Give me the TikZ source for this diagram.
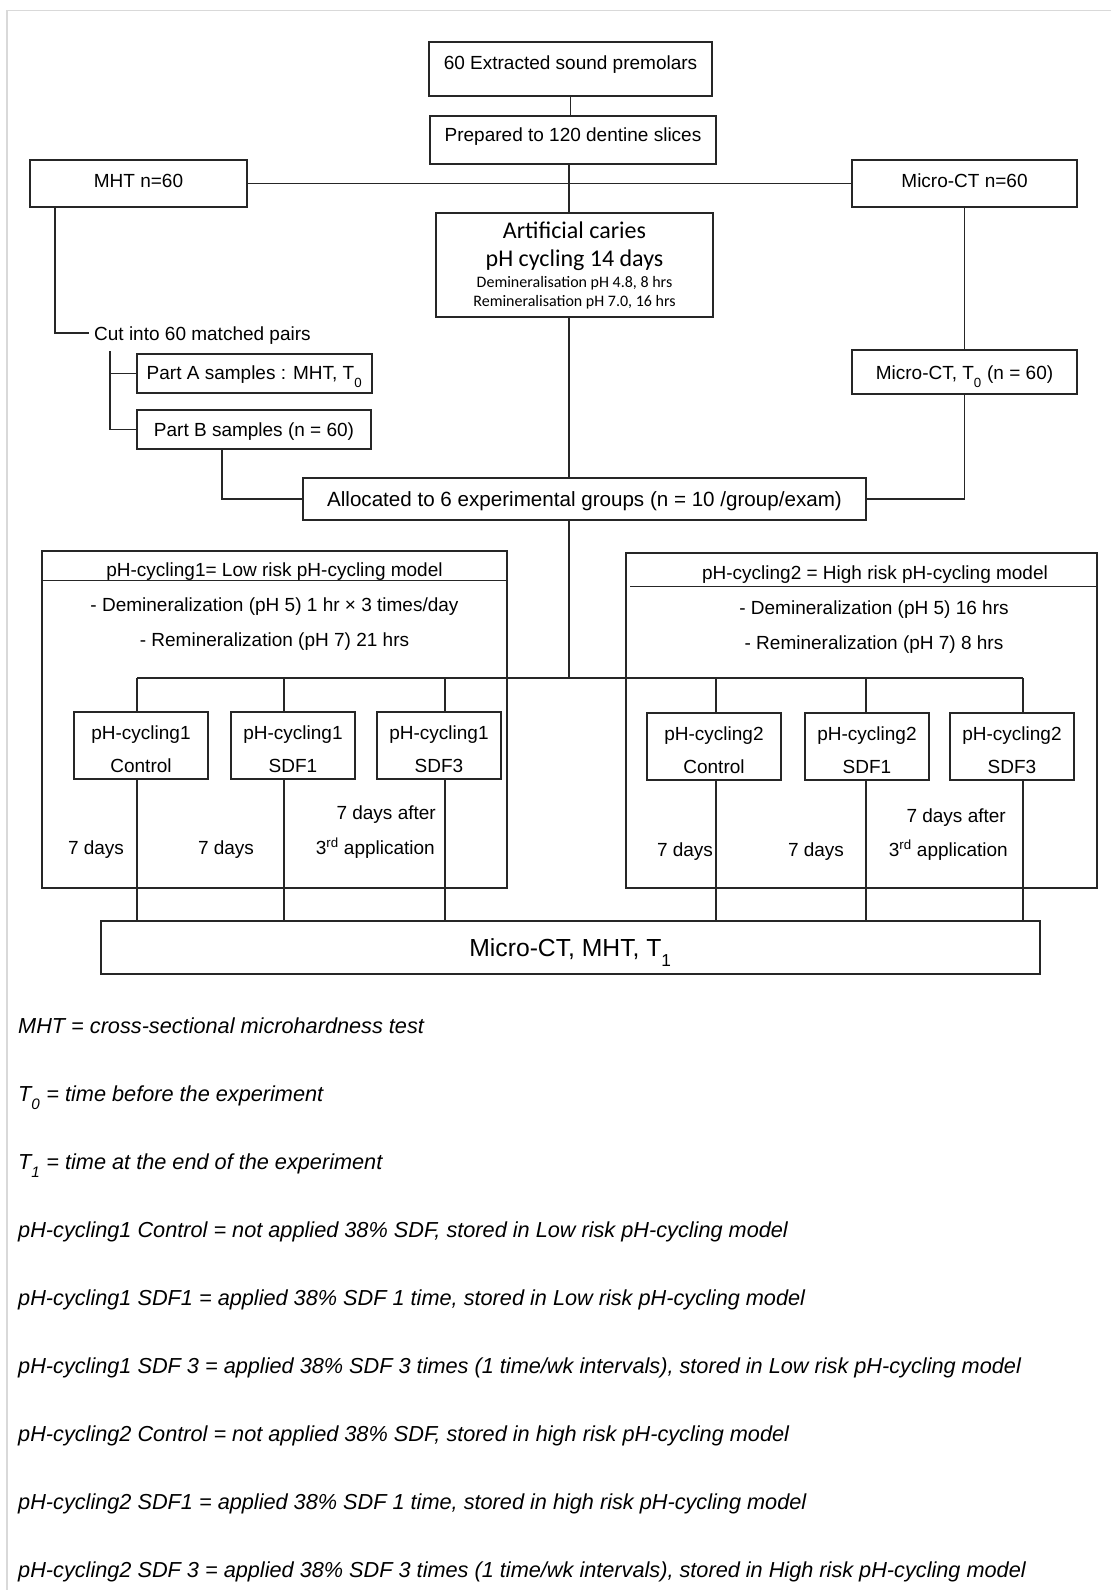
\documentclass[tikz,border=0pt]{standalone}
\usepackage{fontspec}
\setmainfont{Liberation Sans}
\newfontfamily\calfont{Carlito}
\newcommand{\fsz}[2]{\fontsize{#1}{#2}\selectfont}
\newcommand{\tallstrut}{\rule{0pt}{22pt}}
\newcommand{\lowsub}[1]{\raisebox{-0.25em}{\textsubscript{#1}}}

\begin{document}
\begin{tikzpicture}[x=1pt,y=-1pt]
  \tikzset{wire/.style={draw=black!85, line width=1.1pt},
    outline/.style={wire, inner sep=0pt},
    box/.style={outline, font=\fsz{19}{23}, text height=14pt, text depth=4pt},
    pair/.style={outline, align=center, font=\fsz{19}{33}, minimum width=124pt, minimum height=67pt},
    note/.style={font=\fsz{19}{23}, inner sep=0pt, anchor=base},
    foot/.style={font=\fsz{21.7}{26}\itshape, inner sep=0pt, anchor=base west}}
  \useasboundingbox (0,0) rectangle (1111,1590);
  \draw[black!15, line width=1.5pt] (1111,10.5) -- (7,10.5) -- (7,1590);

  \node[box, minimum width=283pt, minimum height=54pt, text depth=14pt] (premolars) at (570.5,69) {60 Extracted sound premolars};
  \node[box, minimum width=286pt, minimum height=48pt, text depth=12pt] (slices) at (573,140) {Prepared to 120 dentine slices};
  \node[box, minimum width=217pt, minimum height=47pt, text depth=7pt] (mht) at (138.5,183.5) {MHT n=60};
  \node[box, minimum width=225pt, minimum height=47pt, text depth=7pt] (microct) at (964.5,183.5) {Micro-CT n=60};
  \node[outline, align=center, minimum width=277pt, minimum height=104pt, font=\calfont\fsz{24}{28}] (caries) at (574.5,265)
    {Artificial caries\\pH cycling 14 days\\[-7pt]{\fsz{16}{19}Demineralisation pH 4.8, 8 hrs}\\[-9pt]{\fsz{16}{19}Remineralisation pH 7.0, 16 hrs}};
  \node[note, anchor=west, inner xsep=5pt, text height=14pt, text depth=0pt] (cut) at (89,333) {Cut into 60 matched pairs};
  \node[box, minimum width=235pt, minimum height=39pt, text depth=3pt] (partA) at (254.5,373.5) {Part A samples : MHT, T\lowsub{0}};
  \node[box, minimum width=234pt, minimum height=39pt, text depth=0pt] (partB) at (254,429.5) {Part B samples (n = 60)};
  \node[box, minimum width=225pt, minimum height=44pt, text depth=0pt] (ct0) at (964.5,372) {Micro-CT, T\lowsub{0} (n = 60)};
  \node[box, font=\fsz{20.6}{25}, minimum width=563pt, minimum height=42pt, text depth=0pt] (alloc) at (584.5,499) {Allocated to 6 experimental groups (n = 10 /group/exam)};

  \node[outline, minimum width=465pt, minimum height=337pt] (low) at (274.5,719.5) {};
  \node[outline, minimum width=471pt, minimum height=335pt] (high) at (861.5,720.5) {};
  \node[note] (lowtitle) at (274.5,576) {pH-cycling1= Low risk pH-cycling model};
  \node[note] (lowdemin) at (274.5,611) {- Demineralization (pH 5) 1 hr × 3 times/day};
  \node[note] (lowremin) at (274.5,646) {- Remineralization (pH 7) 21 hrs};
  \node[note] (hightitle) at (875,579) {pH-cycling2 = High risk pH-cycling model};
  \node[note] (highdemin) at (874,614) {- Demineralization (pH 5) 16 hrs};
  \node[note] (highremin) at (874,649) {- Remineralization (pH 7) 8 hrs};
  \draw[wire] ([yshift=-30pt]low.north west) -- ([yshift=-30pt]low.north east);
  \draw[wire] ([shift={(5pt,-34pt)}]high.north west) -- ([yshift=-34pt]high.north east);

  \node[pair, minimum width=134pt] (ctrlA) at (141,745.5) {\tallstrut pH-cycling1\\Control};
  \node[pair] (sdfA) at (293,745.5) {\tallstrut pH-cycling1\\SDF1};
  \node[pair] (sdf3A) at (439,745.5) {\tallstrut pH-cycling1\\SDF3};
  \node[pair, minimum width=134pt] (ctrlB) at (714,746.5) {\tallstrut pH-cycling2\\Control};
  \node[pair] (sdfB) at (867,746.5) {\tallstrut pH-cycling2\\SDF1};
  \node[pair] (sdf3B) at (1012,746.5) {\tallstrut pH-cycling2\\SDF3};

  \node[note] (daysA) at (96,854) {7 days};
  \node[note] (daysB) at (226,854) {7 days};
  \node[note, anchor=base east] (afterA) at (436,819) {7 days after};
  \node[note, anchor=base east] (thirdA) at (435,854) {3\textsuperscript{rd} application};
  \node[note] (daysC) at (685,856) {7 days};
  \node[note] (daysD) at (816,856) {7 days};
  \node[note, anchor=base east] (afterB) at (1006,822) {7 days after};
  \node[note, anchor=base east] (thirdB) at (1008,856) {3\textsuperscript{rd} application};

  \node[box, font=\fsz{24.7}{30}, minimum width=939pt, minimum height=53pt, text height=18pt, text depth=0pt] (final) at (570.5,947.5) {Micro-CT, MHT, T\lowsub{1}};

  \draw[wire] (premolars.south) -- (premolars.south |- slices.north);
  \draw[wire] (mht) -- (microct);
  \coordinate (hub) at (569,678);
  \draw[wire] (slices.south -| hub) -- (caries.north -| hub);
  \draw[wire] (caries.south -| hub) -- (alloc.north -| hub);
  \draw[wire] (alloc.south -| hub) -- (hub);
  \draw[wire] ([xshift=-83.5pt]mht.south) |- (cut.west);
  \coordinate (split) at (110,351);
  \draw[wire] (split) |- (partA.west);
  \draw[wire] (split) |- (partB.west);
  \draw[wire] ([xshift=-32pt]partB.south) |- (alloc.west);
  \draw[wire] (microct) -- (ct0);
  \draw[wire] (ct0.south) |- (alloc.east);
  \foreach \x [count=\i] in {137,284,445,716,866,1023}
    \coordinate (lane\i) at (\x,678);
  \draw[wire] (lane1) -- (lane6);
  \foreach \b [count=\i] in {ctrlA,sdfA,sdf3A,ctrlB,sdfB,sdf3B} {
    \draw[wire] (lane\i) -- (lane\i |- \b.north);
    \draw[wire] (lane\i |- \b.south) -- (lane\i |- final.north);
  }

  \foreach \t [count=\i from 0] in {
    {MHT = cross-sectional microhardness test},
    {T\lowsub{0} = time before the experiment},
    {T\lowsub{1} = time at the end of the experiment},
    {pH-cycling1 Control = not applied 38\% SDF, stored in Low risk pH-cycling model},
    {pH-cycling1 SDF1 = applied 38\% SDF 1 time, stored in Low risk pH-cycling model},
    {pH-cycling1 SDF 3 = applied 38\% SDF 3 times (1 time/wk intervals), stored in Low risk pH-cycling model},
    {pH-cycling2 Control = not applied 38\% SDF, stored in high risk pH-cycling model},
    {pH-cycling2 SDF1 = applied 38\% SDF 1 time, stored in high risk pH-cycling model},
    {pH-cycling2 SDF 3 = applied 38\% SDF 3 times (1 time/wk intervals), stored in High risk pH-cycling model}}
    \node[foot] (foot\i) at (18,1033+68*\i) {\t};
\end{tikzpicture}
\end{document}
